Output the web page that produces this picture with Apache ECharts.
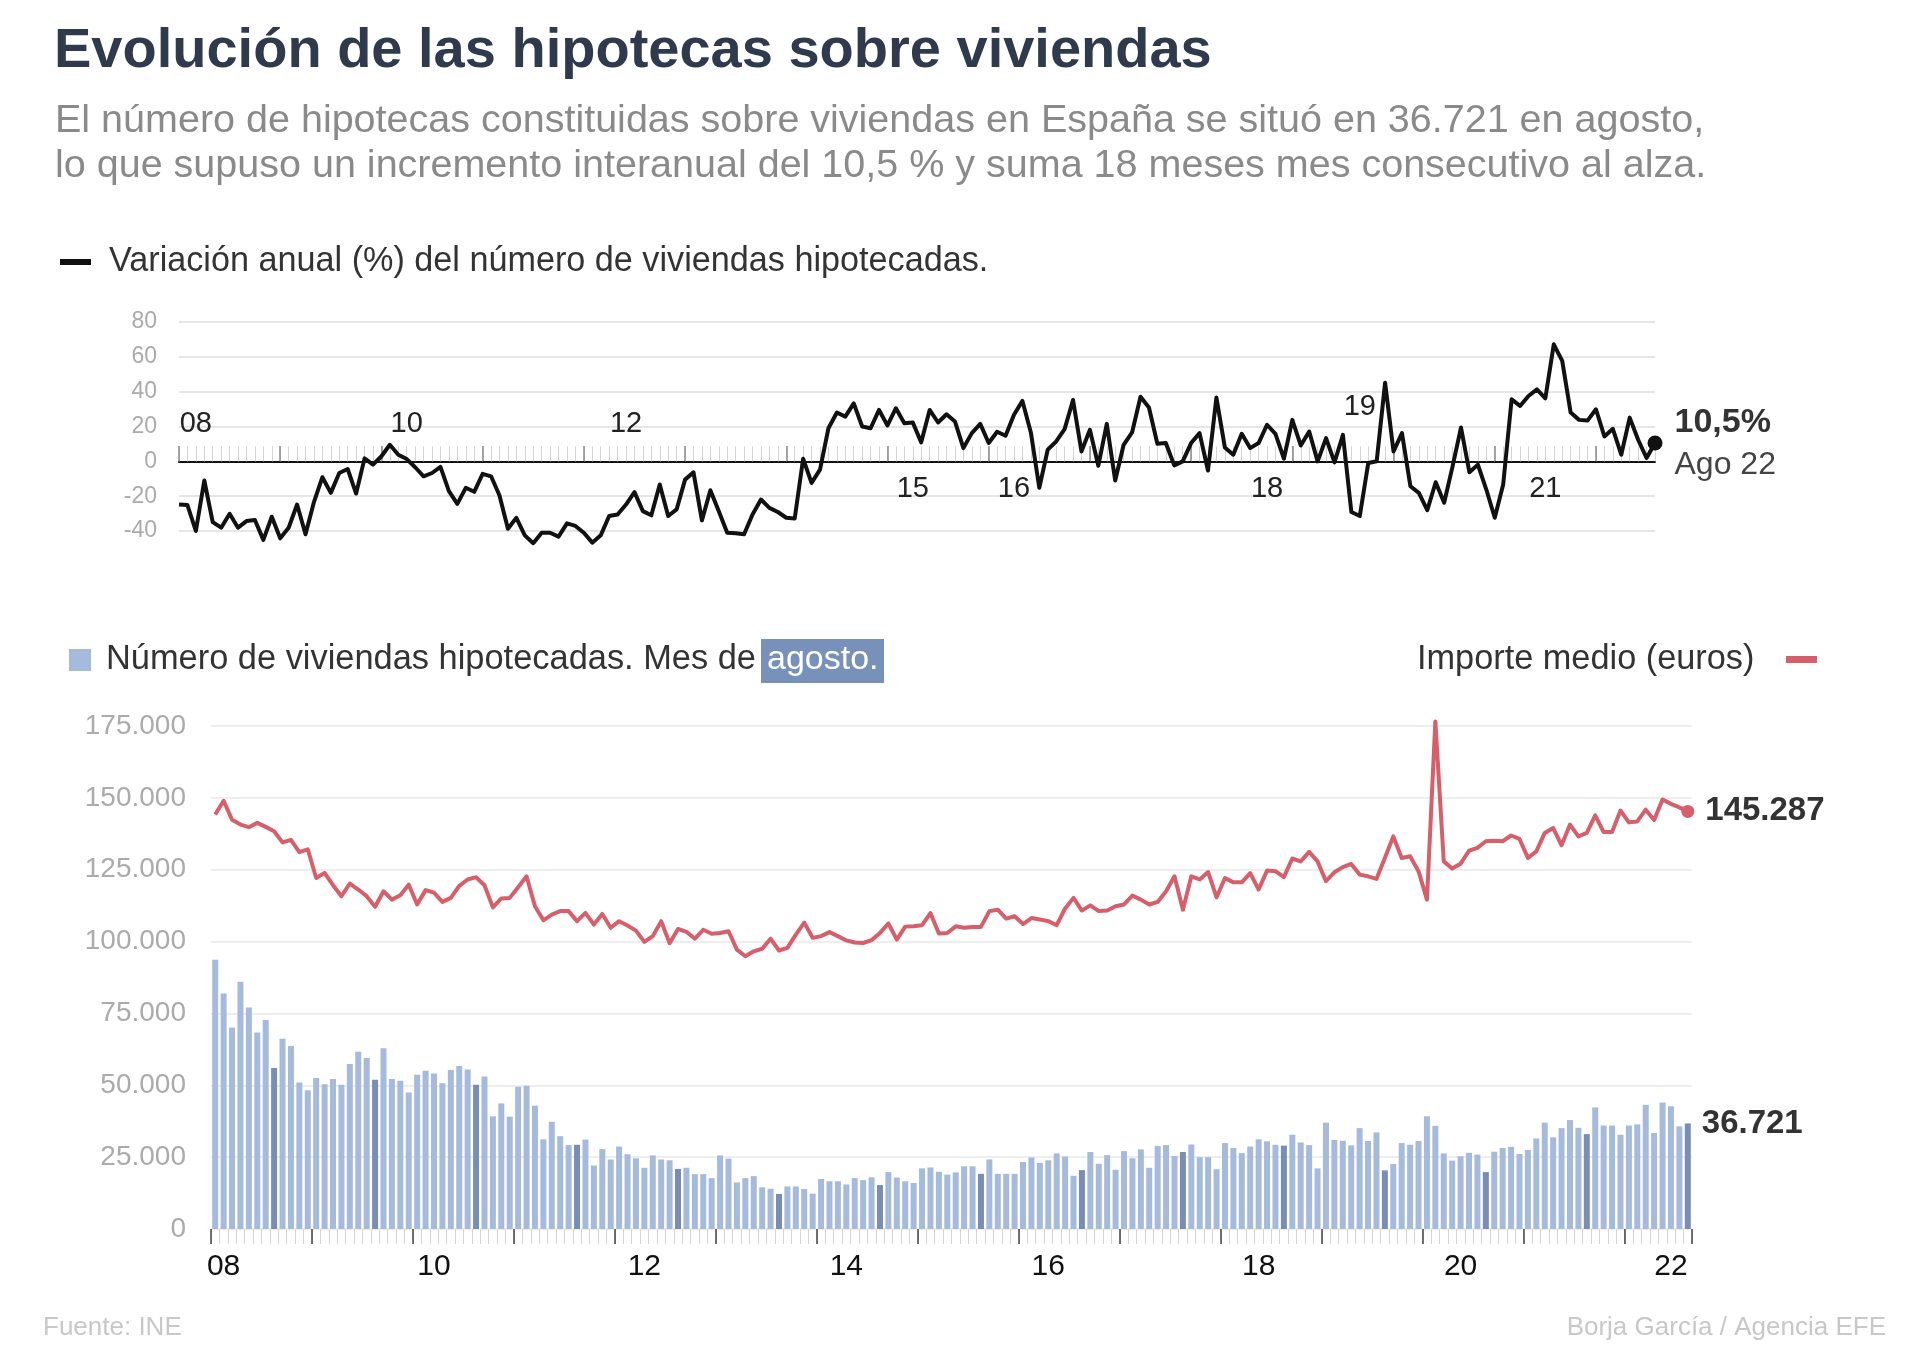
<!DOCTYPE html>
<html>
<head>
<meta charset="utf-8">
<script src="https://cdn.jsdelivr.net/npm/echarts@6/dist/echarts.min.js"></script>
<style>
html,body{margin:0;padding:0;background:#ffffff;}
#chart{width:1920px;height:1369px;}
</style>
</head>
<body>
<div id="chart"></div>
<script>
// ---------------- DATA ----------------
const MESES = ['Ene','Feb','Mar','Abr','May','Jun','Jul','Ago','Sep','Oct','Nov','Dic'];
const ANIO_INICIO = 2008;

// Variación anual (%) del número de viviendas hipotecadas (ene 2008 - ago 2022)
const variacionAnual = [
 -24.8,-25.1,-40.0,-11.0,-34.9,-38.1,-30.1,-38.1,-34.3,-33.7,-45.1,-31.8,
 -44.2,-38.1,-24.8,-41.9,-23.4,-9.1,-18.1,-6.7,-4.4,-18.5,1.7,-1.9,
 2.9,9.5,3.8,1.3,-3.4,-8.6,-6.7,-3.2,-17.1,-24.4,-15.2,-17.5,
 -7.2,-8.6,-19.6,-38.7,-32.4,-42.5,-47.0,-41.0,-41.0,-43.2,-35.6,-37.1,
 -41.0,-46.7,-42.5,-31.4,-30.5,-24.8,-17.7,-28.6,-31.0,-13.3,-31.4,-27.6,
 -10.5,-6.3,-33.9,-16.6,-28.6,-41.0,-41.3,-41.9,-30.5,-21.9,-26.7,-29.1,
 -32.4,-32.8,1.5,-12.4,-4.8,19.0,28.0,25.7,33.3,20.0,19.0,29.5,
 20.6,30.5,21.9,22.3,10.9,29.5,22.3,27.0,22.9,7.6,16.2,21.5,
 10.5,17.0,14.7,26.7,34.7,16.6,-15.2,6.7,11.4,18.5,35.2,5.7,
 18.1,-2.5,21.5,-11.0,9.5,16.6,37.1,30.9,10.1,10.5,-2.3,0.0,
 10.5,16.2,-5.3,36.6,8.0,3.8,15.8,7.6,10.5,21.0,15.8,1.5,
 23.8,9.1,17.1,0.0,13.3,-0.6,15.2,-29.1,-31.4,-1.0,0.0,45.1,
 5.7,16.2,-14.3,-18.1,-28.0,-12.0,-23.8,-2.9,19.4,-6.3,-1.9,-16.2,
 -32.4,-13.3,35.6,31.8,37.5,41.3,36.2,67.2,57.7,28.0,23.8,23.4,
 29.9,14.3,18.7,3.8,25.1,12.4,1.9,10.5
];

// Número de viviendas hipotecadas
const numeroViviendas = [
 93700,81900,70100,86000,77100,68400,72700,56000,66200,63700,51000,48300,
 52500,50400,52200,50200,57400,61700,59500,51900,62900,52200,51600,47500,
 53700,55100,54100,50700,55300,56700,55500,50200,53100,39200,43700,39100,
 49500,49800,42900,31200,37300,32300,29200,29300,31100,22100,27800,24200,
 28700,26000,24600,21300,25600,24200,23900,20900,21300,19100,19100,17700,
 25600,24500,16200,17700,18400,14500,14000,12200,14800,14800,13900,12300,
 17400,16600,16600,15500,17700,17000,18000,15300,19800,17900,16600,16000,
 21100,21400,19900,18900,19700,21800,21800,19200,24200,19200,19200,19200,
 23300,24900,23000,23900,26300,25200,18500,20500,26800,22700,25700,20600,
 27100,24600,27700,21300,28900,29200,25400,26800,29400,25000,25000,20800,
 29900,28200,26400,28700,31200,30500,29300,29000,32800,30100,29200,21100,
 37000,31000,30700,29100,35100,30600,33600,20400,22600,29900,29300,30600,
 39200,35900,26300,23800,25300,26500,25900,19800,26900,28200,28600,26100,
 27500,31500,37000,31900,35100,37900,35200,33000,42300,36000,36000,32800,
 36000,36400,43200,33400,44000,42700,35700,36721
];

// Importe medio (euros)
const importeMedio = [
 144200,149000,142400,140700,139800,141300,139900,138400,134500,135400,131100,132100,
 122100,123900,119600,115800,120200,118100,115800,112100,117500,114600,116100,119800,
 112900,117900,117000,113800,115200,119400,121600,122400,119600,111900,115000,115200,
 118900,122700,112300,107400,109400,110600,110600,107100,110000,105900,109600,104800,
 107100,105600,103800,99900,101900,107100,99400,104400,103400,101000,104100,102700,
 103000,103600,97200,94900,96600,97500,101000,96900,97800,102400,106600,101300,
 101900,103300,101900,100400,99700,99500,100500,103000,106300,100700,105200,105300,
 105700,109900,102800,103000,105300,104800,105100,105100,110600,111100,108000,108800,
 106100,108200,107700,107100,105700,111500,115200,110800,112600,110600,110800,112300,
 112900,116000,114600,112900,113800,117500,122700,111100,122700,121600,124200,115400,
 122100,120600,120600,123800,118100,124700,124500,122400,128900,127900,131200,127900,
 121000,124100,125900,127000,123300,122700,121800,129100,136600,129100,129700,124500,
 114600,176600,127900,125400,127100,131600,132600,134900,135100,134900,136900,135700,
 129100,131400,137800,139500,133500,140700,136600,137800,143900,138100,138100,145600,
 141500,141800,145900,142300,149400,147900,146700,145287
];

// Category indices that carry a year label (as placed in the original graphic)
const etiquetasSupArriba = [2, 27, 53, 140];
const etiquetasSupAbajo = [87, 99, 129, 162];
const etiquetasInferior = [1, 26, 51, 75, 99, 124, 148, 173];
const MES_DESTACADO = 7; // agosto

// ---------------- STYLE ----------------
const FONT = "'Liberation Sans', Arial, Helvetica, sans-serif";
const AZUL = '#a6badc';
const AZUL_OSC = '#7a8eb3';
const ROJO = '#d55f6a';
const NEGRO = '#111111';

const categorias = variacionAnual.map((_, k) =>
  MESES[k % 12] + ' ' + String(ANIO_INICIO + Math.floor(k / 12)).slice(2));

const miles = v => String(Math.round(v)).replace(/\B(?=(\d{3})+(?!\d))/g, '.');
const anio = v => v.slice(-2);
const ultimo = variacionAnual.length - 1;

const txt = (text, x, y, size, color, extra) => ({
  type: 'text', x: x, y: y, silent: true,
  style: Object.assign({
    text: text, fontFamily: FONT, fontSize: size, fill: color,
    textAlign: 'left', align: 'left', textVerticalAlign: 'middle', verticalAlign: 'middle'
  }, extra || {})
});

const chart = echarts.init(document.getElementById('chart'), null, {renderer: 'canvas'});

const option = {
  backgroundColor: '#ffffff',
  animation: false,
  textStyle: {fontFamily: FONT},
  grid: [
    {left: 179, top: 322, width: 1476, height: 209, containLabel: false, outerBoundsMode: 'none'},
    {left: 211, top: 726, width: 1481, height: 503, containLabel: false, outerBoundsMode: 'none'}
  ],
  xAxis: [
    { // 0 top chart: axis line on zero + monthly ticks
      type: 'category', gridIndex: 0, position: 'bottom', data: categorias, boundaryGap: false,
      axisLine: {show: true, onZero: true, lineStyle: {color: NEGRO, width: 2}},
      axisTick: {show: true, inside: true, length: 15, interval: 0, lineStyle: {color: '#d4d4d4', width: 1}},
      axisLabel: {show: false},
      splitLine: {show: false}
    },
    { // 1 top chart: yearly ticks + labels below the zero line
      type: 'category', gridIndex: 0, position: 'bottom', offset: -70, data: categorias, boundaryGap: false,
      axisLine: {show: false, onZero: false},
      axisTick: {show: true, inside: true, length: 15, interval: (i) => i % 12 === 0, lineStyle: {color: '#8a8a8a', width: 1.5}},
      axisLabel: {
        show: true, margin: 13, fontSize: 29, color: '#222',
        interval: (i) => etiquetasSupAbajo.indexOf(i) >= 0,
        formatter: (v) => anio(v)
      },
      splitLine: {show: false}
    },
    { // 2 top chart: labels above the zero line
      type: 'category', gridIndex: 0, position: 'top', offset: -116, data: categorias, boundaryGap: false,
      axisLine: {show: false, onZero: false},
      axisTick: {show: false},
      axisLabel: {
        show: true, margin: 0, fontSize: 29, color: '#222',
        interval: (i) => etiquetasSupArriba.indexOf(i) >= 0,
        formatter: (v, i) => i === etiquetasSupArriba[3] ? '{hi|' + anio(v) + '}' : anio(v),
        rich: {hi: {fontSize: 29, color: '#222', padding: [0, 0, 17, 0]}}
      },
      splitLine: {show: false}
    },
    { // 3 bottom chart: monthly ticks + labels
      type: 'category', gridIndex: 1, position: 'bottom', data: categorias, boundaryGap: true,
      axisLine: {show: false},
      axisTick: {show: true, length: 15, interval: 0, lineStyle: {color: '#d4d4d4', width: 1}},
      axisLabel: {
        show: true, margin: 23, fontSize: 30, color: '#111',
        interval: (i) => etiquetasInferior.indexOf(i) >= 0,
        formatter: (v) => anio(v)
      },
      splitLine: {show: false}
    },
    { // 4 bottom chart: yearly ticks
      type: 'category', gridIndex: 1, position: 'bottom', data: categorias, boundaryGap: true,
      axisLine: {show: false},
      axisTick: {show: true, length: 15, interval: (i) => i % 12 === 0, lineStyle: {color: '#444', width: 1.5}},
      axisLabel: {show: false},
      splitLine: {show: false}
    }
  ],
  yAxis: [
    {
      type: 'value', gridIndex: 0, min: -40, max: 80, interval: 20,
      axisLine: {show: false}, axisTick: {show: false},
      axisLabel: {fontSize: 23, color: '#ababab', margin: 22},
      splitLine: {show: true, lineStyle: {color: '#e6e6e6', width: 2}}
    },
    {
      type: 'value', gridIndex: 1, min: 0, max: 175000, interval: 25000,
      axisLine: {show: false}, axisTick: {show: false},
      axisLabel: {fontSize: 28, color: '#ababab', margin: 25, formatter: (v) => miles(v)},
      splitLine: {show: true, lineStyle: {color: '#e8e8e8', width: 1.5}}
    }
  ],
  series: [
    {
      name: 'Variación anual', type: 'line', xAxisIndex: 0, yAxisIndex: 0,
      symbol: 'circle', showSymbol: true, showAllSymbol: true,
      symbolSize: (v, p) => p.dataIndex === ultimo ? 15 : 0,
      clip: false, silent: true, z: 5,
      lineStyle: {color: NEGRO, width: 4, join: 'round'},
      itemStyle: {color: NEGRO},
      emphasis: {disabled: true},
      data: variacionAnual.map((v, k) => k !== ultimo ? v : {
        value: v,
        label: {
          show: true, position: 'right', distance: 12, offset: [0, 1],
          formatter: (p) => '{a|' + String(p.value.toFixed(1)).replace('.', ',') + '%}\n{b|' + p.name + '}',
          rich: {
            a: {fontFamily: FONT, fontSize: 34, fontWeight: 'bold', color: '#333', lineHeight: 43},
            b: {fontFamily: FONT, fontSize: 32, color: '#444', lineHeight: 43}
          }
        }
      })
    },
    {
      name: 'Número de viviendas', type: 'bar', xAxisIndex: 3, yAxisIndex: 1,
      barWidth: 6, silent: true, emphasis: {disabled: true},
      data: numeroViviendas.map((v, k) => {
        const item = {value: v, itemStyle: {color: k % 12 === MES_DESTACADO ? AZUL_OSC : AZUL}};
        if (k === numeroViviendas.length - 1) {
          item.label = {
            show: true, position: ['100%', 0], offset: [11, 0], align: 'left', verticalAlign: 'middle',
            fontFamily: FONT, fontSize: 33, fontWeight: 'bold', color: '#333',
            formatter: (p) => miles(p.value)
          };
        }
        return item;
      })
    },
    {
      name: 'Importe medio', type: 'line', xAxisIndex: 3, yAxisIndex: 1,
      symbol: 'circle', showSymbol: true, showAllSymbol: true,
      symbolSize: (v, p) => p.dataIndex === importeMedio.length - 1 ? 13 : 0,
      clip: false, silent: true, z: 6,
      lineStyle: {color: ROJO, width: 4, join: 'round'},
      itemStyle: {color: ROJO},
      emphasis: {disabled: true},
      data: importeMedio.map((v, k) => k !== importeMedio.length - 1 ? v : {
        value: v,
        label: {
          show: true, position: 'right', distance: 11,
          fontFamily: FONT, fontSize: 33, fontWeight: 'bold', color: '#333',
          formatter: (p) => miles(p.value)
        }
      })
    }
  ],
  graphic: [
    txt('Evolución de las hipotecas sobre viviendas', 54, 52, 56, '#2f3b4d', {fontWeight: 'bold'}),
    txt('El número de hipotecas constituidas sobre viviendas en España se situó en 36.721 en agosto,', 55, 121.5, 39.5, '#8a8a8a'),
    txt('lo que supuso un incremento interanual del 10,5 % y suma 18 meses mes consecutivo al alza.', 55, 166.5, 39.5, '#8a8a8a'),
    {type: 'rect', silent: true, shape: {x: 60, y: 259, width: 31, height: 6}, style: {fill: NEGRO}},
    txt('Variación anual (%) del número de viviendas hipotecadas.', 109, 262, 34.2, '#333'),
    {type: 'rect', silent: true, shape: {x: 69, y: 649, width: 22, height: 22}, style: {fill: AZUL}},
    txt('Número de viviendas hipotecadas. Mes de', 106, 660, 34.4, '#333'),
    {type: 'rect', silent: true, shape: {x: 761, y: 639, width: 123, height: 44}, style: {fill: '#7791bb'}},
    txt('agosto.', 767, 660, 34, '#ffffff'),
    txt('Importe medio (euros)', 1417, 660, 34.3, '#333'),
    {type: 'rect', silent: true, shape: {x: 1786, y: 656, width: 31, height: 7}, style: {fill: ROJO}},
    txt('Fuente: INE', 43, 1328, 26, '#c8c8c8'),
    txt('Borja García / Agencia EFE', 1886, 1328, 26, '#c8c8c8', {textAlign: 'right', align: 'right'})
  ]
};

chart.setOption(option);
</script>
</body>
</html>
